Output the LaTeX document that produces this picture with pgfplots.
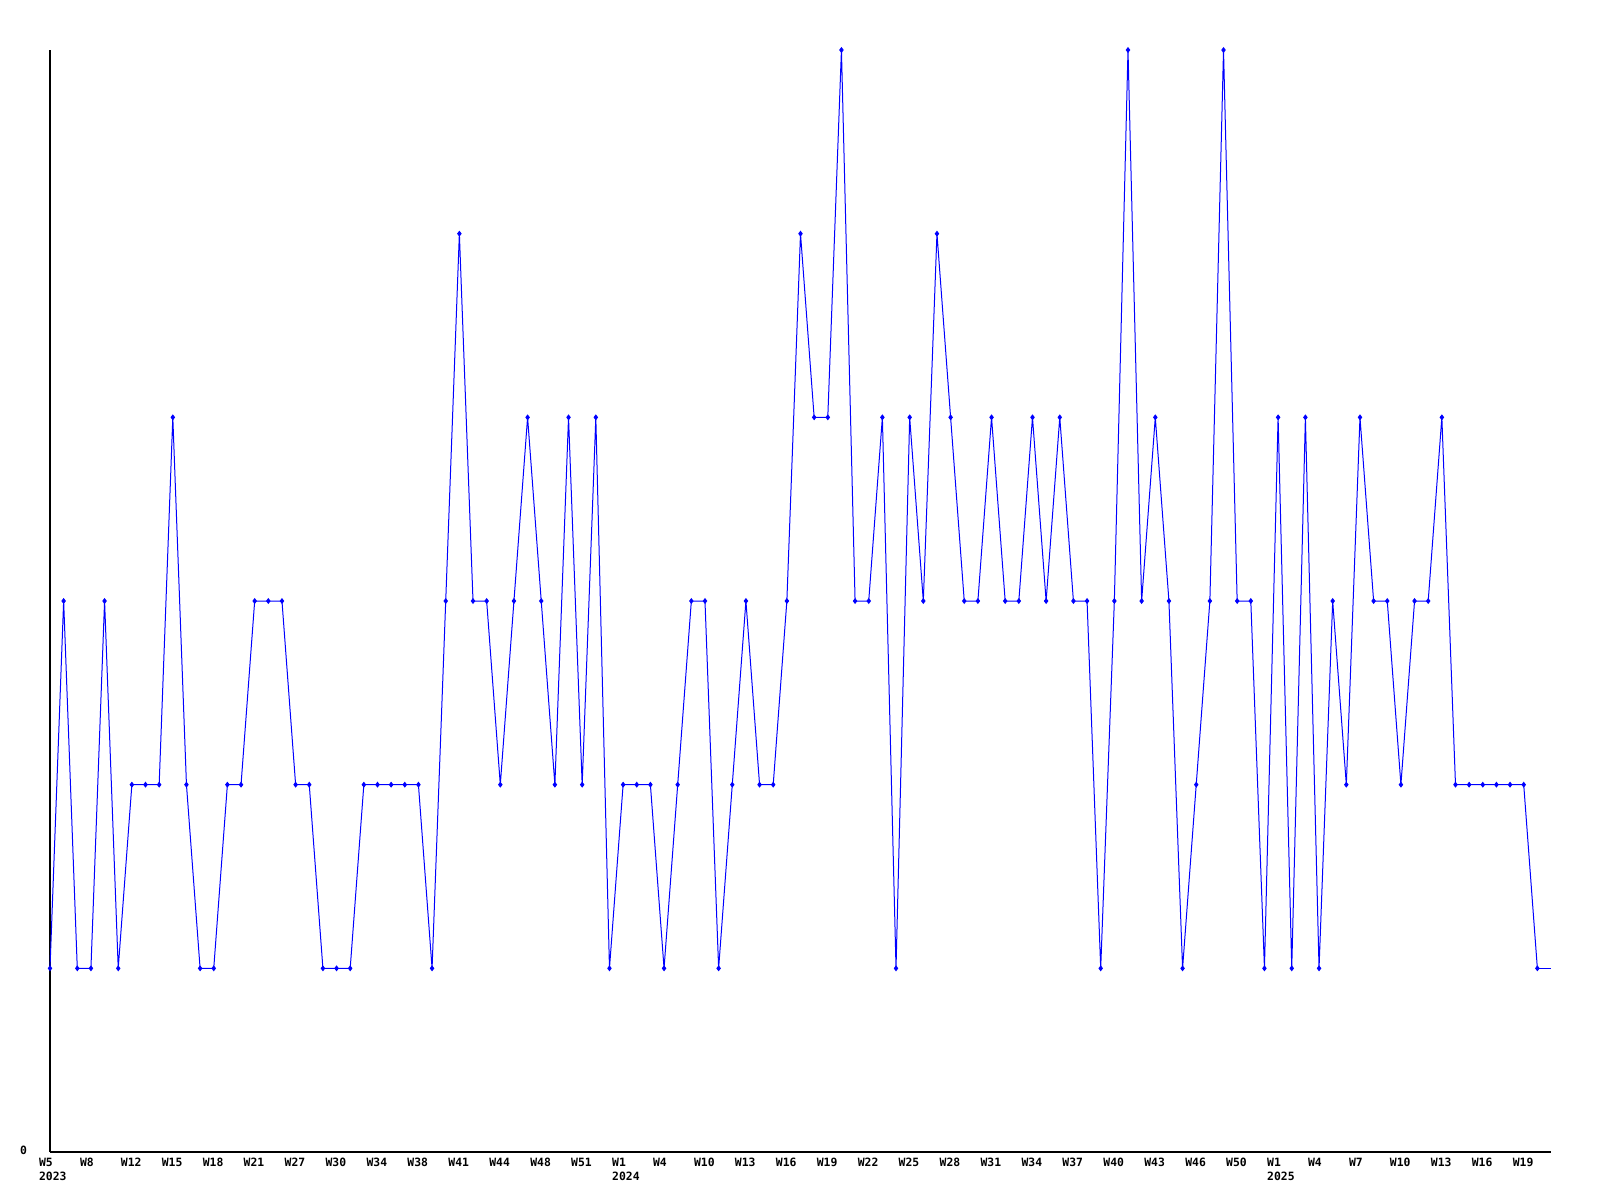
\documentclass[border=0pt]{standalone}
\usepackage{fontspec}
\usepackage{pgfplots}
\pgfplotsset{compat=1.18}
\newfontfamily\monofont{DejaVu Sans Mono}
\begin{document}
\begin{tikzpicture}
\useasboundingbox (0,0) rectangle (800pt,600pt);
\begin{axis}[
  at={(25pt,24pt)}, anchor=south west,
  scale only axis, width=750.5pt, height=551pt,
  xmin=0, xmax=110, ymin=0, ymax=6,
  axis lines*=left,
  axis line style={black, line width=0.6pt},
  clip=false,
  major tick length=0pt,
  ytick={0}, yticklabels={0},
  yticklabel style={font={\fontsize{5.7}{7.3}\selectfont\monofont\bfseries}, xshift=-8pt, yshift=1pt},
  xtick={0,3,...,108},
  xticklabels={{W5\\2023},W8,W12,W15,W18,W21,W27,W30,W34,W38,W41,W44,W48,W51,{W1\\2024},W4,W10,W13,W16,W19,W22,W25,W28,W31,W34,W37,W40,W43,W46,W50,{W1\\2025},W4,W7,W10,W13,W16,W19},
  xticklabel style={font={\fontsize{5.7}{7.3}\selectfont\monofont\bfseries}, align=left, anchor=north west, xshift=-9pt, yshift=0.5pt},
]
\addplot[color={rgb,255:red,0;green,0;blue,255}, line width=0.5pt, mark=diamond*, mark size=1.1pt, mark options={solid}] coordinates {
(0,1)(1,3)(2,1)(3,1)(4,3)(5,1)(6,2)(7,2)(8,2)(9,4)
(10,2)(11,1)(12,1)(13,2)(14,2)(15,3)(16,3)(17,3)(18,2)(19,2)
(20,1)(21,1)(22,1)(23,2)(24,2)(25,2)(26,2)(27,2)(28,1)(29,3)
(30,5)(31,3)(32,3)(33,2)(34,3)(35,4)(36,3)(37,2)(38,4)(39,2)
(40,4)(41,1)(42,2)(43,2)(44,2)(45,1)(46,2)(47,3)(48,3)(49,1)
(50,2)(51,3)(52,2)(53,2)(54,3)(55,5)(56,4)(57,4)(58,6)(59,3)
(60,3)(61,4)(62,1)(63,4)(64,3)(65,5)(66,4)(67,3)(68,3)(69,4)
(70,3)(71,3)(72,4)(73,3)(74,4)(75,3)(76,3)(77,1)(78,3)(79,6)
(80,3)(81,4)(82,3)(83,1)(84,2)(85,3)(86,6)(87,3)(88,3)(89,1)
(90,4)(91,1)(92,4)(93,1)(94,3)(95,2)(96,4)(97,3)(98,3)(99,2)
(100,3)(101,3)(102,4)(103,2)(104,2)(105,2)(106,2)(107,2)(108,2)(109,1)
};
\addplot[color={rgb,255:red,0;green,0;blue,255}, line width=0.5pt, mark=none] coordinates {(109,1)(110,1)};
\end{axis}
\end{tikzpicture}
\end{document}
